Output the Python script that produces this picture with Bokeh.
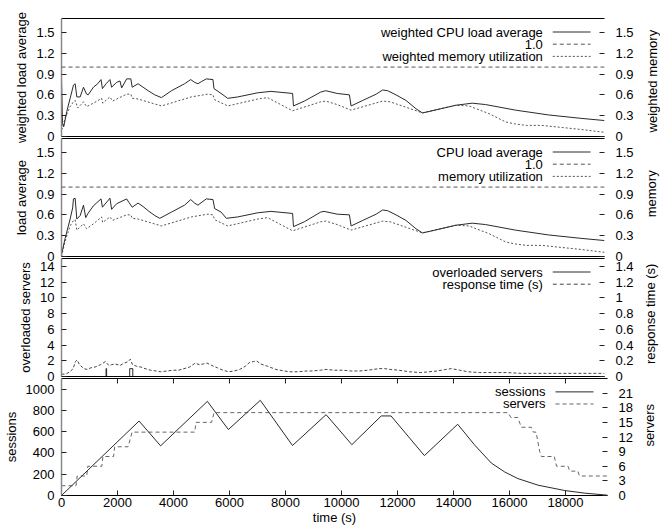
import math
from bokeh.plotting import figure
from bokeh.models import Range1d, LinearAxis, FixedTicker, Label, Span
from bokeh.layouts import column, row
from bokeh.embed import file_html
from bokeh.resources import INLINE

FONT = "Liberation Sans"
X_END = 19500

# ---------------- tick definitions ----------------
x_ticks = [0, 2000, 4000, 6000, 8000, 10000, 12000, 14000, 16000, 18000]
x_tick_labels = ["0", "2000", "4000", "6000", "8000", "10000", "12000", "14000", "16000", "18000"]
load_ticks = [0, 0.3, 0.6, 0.9, 1.2, 1.5]
load_tick_labels = ["0", "0.3", "0.6", "0.9", "1.2", "1.5"]
overload_ticks = [0, 2, 4, 6, 8, 10, 12, 14]
overload_tick_labels = ["0", "2", "4", "6", "8", "10", "12", "14"]
resp_ticks = [0, 0.2, 0.4, 0.6, 0.8, 1.0, 1.2, 1.4]
resp_tick_labels = ["0", "0.2", "0.4", "0.6", "0.8", "1", "1.2", "1.4"]
session_ticks = [0, 200, 400, 600, 800, 1000]
session_tick_labels = ["0", "200", "400", "600", "800", "1000"]
server_ticks = [0, 3, 6, 9, 12, 15, 18, 21]
server_tick_labels = ["0", "3", "6", "9", "12", "15", "18", "21"]

threshold = 1.0

# ---------------- data (time s, value) ----------------
weighted_cpu = [(0, 0.82), (40, 0.17), (80, 0.14), (190, 0.36), (310, 0.55), (430, 0.74), (490, 0.76),
                (550, 0.57), (670, 0.57), (790, 0.71), (900, 0.61), (960, 0.60), (1145, 0.71), (1300, 0.76),
                (1420, 0.82), (1470, 0.69), (1600, 0.76), (1740, 0.82), (1800, 0.71), (1980, 0.78),
                (2100, 0.80), (2160, 0.70), (2340, 0.83), (2490, 0.83), (2540, 0.71), (2750, 0.76),
                (2930, 0.71), (3110, 0.66), (3350, 0.60), (3590, 0.56), (3950, 0.66), (4420, 0.76),
                (4640, 0.82), (4780, 0.78), (4900, 0.76), (5020, 0.79), (5200, 0.83), (5440, 0.82),
                (5475, 0.69), (5730, 0.62), (5970, 0.55), (6330, 0.57), (7050, 0.63), (7520, 0.65),
                (8300, 0.62), (8330, 0.44), (8720, 0.51), (9310, 0.64), (9490, 0.66), (9900, 0.62),
                (10340, 0.60), (10400, 0.44), (10820, 0.52), (11300, 0.61), (11530, 0.67), (11710, 0.66),
                (12010, 0.60), (12370, 0.52), (12730, 0.40), (12960, 0.34), (13200, 0.36), (14160, 0.45),
                (14750, 0.48), (15230, 0.46), (16300, 0.38), (17500, 0.31), (18690, 0.26), (19500, 0.23)]

weighted_mem = [(0, 0.10), (40, 0.12), (130, 0.27), (310, 0.43), (430, 0.50), (490, 0.52), (585, 0.41),
                (790, 0.50), (900, 0.43), (1145, 0.48), (1440, 0.55), (1480, 0.48), (1740, 0.57),
                (1830, 0.51), (2340, 0.61), (2490, 0.61), (2540, 0.55), (2750, 0.54), (3590, 0.44),
                (4660, 0.57), (5260, 0.61), (5440, 0.60), (5500, 0.53), (5970, 0.44), (7050, 0.54),
                (7400, 0.56), (8300, 0.37), (9310, 0.50), (9490, 0.51), (9900, 0.46), (10400, 0.38),
                (11530, 0.51), (11800, 0.50), (12960, 0.34), (14160, 0.45), (14630, 0.44), (15350, 0.33),
                (15950, 0.21), (16300, 0.18), (16700, 0.16), (17250, 0.16), (17970, 0.13), (18690, 0.10),
                (19500, 0.06)]

cpu_load = [(0, 0.03), (130, 0.26), (310, 0.54), (400, 0.70), (430, 0.83), (490, 0.84), (550, 0.54),
            (670, 0.59), (790, 0.74), (870, 0.56), (950, 0.62), (1145, 0.73), (1420, 0.83), (1470, 0.71),
            (1740, 0.84), (1800, 0.68), (1980, 0.76), (2340, 0.83), (2420, 0.78), (2540, 0.71),
            (2750, 0.77), (2930, 0.72), (3110, 0.66), (3350, 0.59), (3530, 0.55), (3950, 0.64),
            (4420, 0.74), (4640, 0.82), (4780, 0.77), (4900, 0.74), (5200, 0.83), (5440, 0.82),
            (5500, 0.69), (5730, 0.64), (5920, 0.55), (6330, 0.57), (7050, 0.63), (7520, 0.65),
            (8300, 0.62), (8330, 0.43), (8720, 0.50), (9310, 0.64), (9430, 0.65), (9900, 0.61),
            (10340, 0.60), (10400, 0.44), (10820, 0.52), (11300, 0.61), (11530, 0.67), (11710, 0.66),
            (12010, 0.60), (12370, 0.52), (12730, 0.40), (12960, 0.34), (13200, 0.36), (14160, 0.45),
            (14750, 0.48), (15230, 0.46), (16300, 0.38), (17500, 0.31), (18690, 0.26), (19500, 0.23)]

memory = [(0, 0.0), (130, 0.22), (310, 0.44), (430, 0.52), (490, 0.53), (550, 0.38), (790, 0.47),
          (900, 0.40), (1145, 0.47), (1440, 0.57), (1480, 0.49), (1740, 0.57), (1830, 0.52), (2340, 0.60),
          (2490, 0.60), (2540, 0.55), (2750, 0.54), (3590, 0.44), (4660, 0.57), (5260, 0.61), (5440, 0.60),
          (5500, 0.53), (5970, 0.44), (7050, 0.54), (7400, 0.56), (8300, 0.37), (9310, 0.50), (9490, 0.51),
          (9900, 0.46), (10400, 0.38), (11530, 0.51), (11800, 0.50), (12960, 0.34), (14160, 0.45),
          (14630, 0.44), (15350, 0.33), (15950, 0.21), (16300, 0.18), (16700, 0.16), (17250, 0.16),
          (17970, 0.13), (18690, 0.10), (19500, 0.06)]

overloaded_servers = [(0, 0), (1600, 0), (1600, 1), (1620, 1), (1620, 0), (2450, 0), (2450, 1),
                      (2560, 1), (2560, 0), (19500, 0)]

response_time = [(0, 0.03), (150, 0.03), (300, 0.06), (420, 0.10), (500, 0.19), (560, 0.21), (650, 0.15),
                 (800, 0.10), (920, 0.09), (1050, 0.11), (1200, 0.12), (1400, 0.15), (1580, 0.19),
                 (1700, 0.14), (1800, 0.15), (1930, 0.16), (2100, 0.14), (2250, 0.17), (2400, 0.19),
                 (2470, 0.22), (2550, 0.15), (2700, 0.13), (2850, 0.12), (3000, 0.10), (3200, 0.08),
                 (3400, 0.07), (3550, 0.06), (3800, 0.07), (4000, 0.08), (4200, 0.08), (4400, 0.10),
                 (4600, 0.12), (4800, 0.17), (4950, 0.15), (5100, 0.16), (5230, 0.17), (5400, 0.14),
                 (5600, 0.11), (5800, 0.08), (6000, 0.06), (6200, 0.07), (6400, 0.09), (6600, 0.13),
                 (6760, 0.18), (6900, 0.19), (7000, 0.20), (7150, 0.16), (7400, 0.13), (7700, 0.09),
                 (8000, 0.07), (8200, 0.06), (8500, 0.06), (8800, 0.07), (9000, 0.07), (9300, 0.08),
                 (9500, 0.09), (9800, 0.08), (10100, 0.08), (10400, 0.07), (10700, 0.07), (11000, 0.08),
                 (11200, 0.09), (11400, 0.10), (11600, 0.10), (11800, 0.09), (12100, 0.08), (12500, 0.06),
                 (12900, 0.05), (13200, 0.06), (13500, 0.07), (13800, 0.09), (14000, 0.10), (14300, 0.08),
                 (14600, 0.06), (15000, 0.05), (15500, 0.05), (16000, 0.05), (16500, 0.04), (17000, 0.04),
                 (17500, 0.04), (18000, 0.04), (18500, 0.04), (19000, 0.04), (19500, 0.04)]

sessions = [(0, 0), (2770, 700), (3540, 467), (5210, 885), (5960, 620), (7100, 895), (8250, 470),
            (9450, 760), (10370, 478), (11420, 748), (11770, 748), (12960, 375), (14150, 670),
            (14750, 476), (15350, 305), (15830, 221), (16300, 159), (17020, 97), (17970, 47),
            (18690, 22), (19500, 3)]

servers = [(0, 2), (520, 2), (560, 4), (900, 4), (940, 6), (1440, 6), (1480, 8), (1860, 8), (1900, 10),
           (2380, 10), (2520, 13), (4760, 13), (4800, 15), (5360, 15), (5450, 17), (15950, 17),
           (16050, 16), (16300, 16), (16420, 14), (16780, 14), (16850, 13), (16950, 13), (17080, 9),
           (17140, 8), (17600, 8), (17680, 6), (18090, 6), (18150, 5), (18440, 5), (18500, 4), (19500, 4)]

SOLID = "#2a2a2a"
GRAY = "#555555"
FRAME_W = 546
FRAME_H = 118
OVERLAP = 8
MAIN_W = 636
SIDE_W = 660 - MAIN_W


def xs(pairs):
    return [a for a, _ in pairs]


def ys(pairs):
    return [b for _, b in pairs]


def px_to_x(px_from_frame_left):
    return X_END * px_from_frame_left / FRAME_W


def style_axis(ax):
    ax.major_tick_in = 5
    ax.major_tick_out = 0
    ax.minor_tick_in = 0
    ax.minor_tick_out = 0
    ax.major_tick_line_color = "#222222"
    ax.major_label_text_font = FONT
    ax.major_label_text_font_size = "13px"
    ax.major_label_text_color = "black"
    ax.axis_label_text_font = FONT
    ax.axis_label_text_font_size = "13px"
    ax.axis_label_text_font_style = "normal"
    ax.axis_label_text_color = "black"


def side_title(height, top, text, center_px):
    """Narrow strip to the right of a panel that carries its right-hand axis title."""
    s = figure(width=SIDE_W, height=height, x_range=Range1d(0, SIDE_W), y_range=Range1d(0, height),
               x_axis_location=None, y_axis_location=None, output_backend="svg",
               toolbar_location=None, min_border=0)
    s.outline_line_color = None
    s.grid.visible = False
    s.background_fill_color = None
    s.border_fill_color = None
    s.add_layout(Label(x=center_px - MAIN_W, y=height - top - FRAME_H / 2, text=text, angle=math.pi / 2,
                       text_align="center", text_baseline="middle", text_font=FONT,
                       text_font_size="13px", text_color="black"))
    return s


def make_panel(top, bottom, y_end, y2_end, lt, ll, ltitle, rt, rl, with_x):
    p = figure(width=MAIN_W, height=top + FRAME_H + bottom, x_range=Range1d(0, X_END),
               y_range=Range1d(0, y_end), x_axis_location=None, y_axis_location=None,
               output_backend="svg", toolbar_location=None, min_border_left=61,
               min_border_right=MAIN_W - 61 - FRAME_W,
               min_border_top=top, min_border_bottom=bottom)
    p.extra_y_ranges = {"y2": Range1d(0, y2_end)}
    p.outline_line_color = None
    p.grid.visible = False
    p.background_fill_color = None
    p.border_fill_color = None

    left = LinearAxis(ticker=FixedTicker(ticks=lt), major_label_overrides=dict(zip(lt, ll)),
                      axis_label=ltitle)
    style_axis(left)
    left.axis_line_color = "#888888"
    left.axis_line_width = 1.5
    left.major_label_standoff = 7
    left.axis_label_standoff = 4
    p.add_layout(left, "left")

    right = LinearAxis(y_range_name="y2", ticker=FixedTicker(ticks=rt),
                       major_label_overrides=dict(zip(rt, rl)))
    style_axis(right)
    right.axis_line_color = None
    right.major_label_standoff = 11
    p.add_layout(right, "right")

    if with_x:
        below = LinearAxis(ticker=FixedTicker(ticks=x_ticks),
                           major_label_overrides=dict(zip(x_ticks, x_tick_labels)), axis_label="time (s)")
        style_axis(below)
        below.axis_line_color = "black"
        below.major_label_standoff = 2
        below.axis_label_standoff = 0
        p.add_layout(below, "below")
        above = LinearAxis(ticker=FixedTicker(ticks=[]))
        style_axis(above)
        above.axis_line_color = "black"
        above.major_label_standoff = 0
        p.add_layout(above, "above")
        # mirrored (inward) tick marks along the top border
        tick_len = y_end * 5 / FRAME_H
        p.segment(x0=x_ticks, y0=[y_end] * len(x_ticks), x1=x_ticks, y1=[y_end - tick_len] * len(x_ticks),
                  line_color="#222222", line_width=1)
    else:
        for side in ("below", "above"):
            ax = LinearAxis(ticker=FixedTicker(ticks=[]))
            style_axis(ax)
            ax.axis_line_color = "black"
            ax.major_label_standoff = 0
            p.add_layout(ax, side)
    return p


def add_legend(p, y_end, entries):
    for i, (label, color, dash) in enumerate(entries):
        y = y_end * (1 - (13.5 + 12.2 * i) / FRAME_H)
        p.add_layout(Label(x=px_to_x(484), y=y, text=label, text_align="right",
                           text_baseline="middle", text_font=FONT, text_font_size="13px",
                           text_color="black"))
        p.line([px_to_x(494), px_to_x(532)], [y, y], line_color=color, line_dash=dash, line_width=1)


DASH = "4 3"
DOT = "2 2"
B = OVERLAP + 1

# panel 1
p1 = make_panel(18, B, 1.7, 1.7, load_ticks, load_tick_labels, "weighted load average",
                load_ticks, load_tick_labels, False)
p1.add_layout(Span(location=threshold, dimension="width", line_color=GRAY, line_dash=DASH, line_width=1))
p1.line(xs(weighted_mem), ys(weighted_mem), line_color=GRAY, line_dash=DOT, line_width=1, y_range_name="y2")
p1.line(xs(weighted_cpu), ys(weighted_cpu), line_color=SOLID, line_width=1)
add_legend(p1, 1.7, [("weighted CPU load average", SOLID, "solid"), ("1.0", GRAY, DASH),
                     ("weighted memory utilization", GRAY, DOT)])
s1 = side_title(18 + FRAME_H + B, 18, "weighted memory", 652)

# panel 2
p2 = make_panel(1, B, 1.7, 1.7, load_ticks, load_tick_labels, "load average",
                load_ticks, load_tick_labels, False)
p2.add_layout(Span(location=threshold, dimension="width", line_color=GRAY, line_dash=DASH, line_width=1))
p2.line(xs(memory), ys(memory), line_color=GRAY, line_dash=DOT, line_width=1, y_range_name="y2")
p2.line(xs(cpu_load), ys(cpu_load), line_color=SOLID, line_width=1)
add_legend(p2, 1.7, [("CPU load average", SOLID, "solid"), ("1.0", GRAY, DASH),
                     ("memory utilization", GRAY, DOT)])
s2 = side_title(1 + FRAME_H + B, 1, "memory", 651)

# panel 3
p3 = make_panel(1, B, 15, 1.5, overload_ticks, overload_tick_labels, "overloaded servers",
                resp_ticks, resp_tick_labels, False)
p3.line(xs(response_time), ys(response_time), line_color="#444444", line_dash="3 2", line_width=1,
        y_range_name="y2")
p3.line(xs(overloaded_servers), ys(overloaded_servers), line_color=SOLID, line_width=1)
add_legend(p3, 15, [("overloaded servers", SOLID, "solid"), ("response time (s)", "#444444", DASH)])
s3 = side_title(1 + FRAME_H + B, 1, "response time (s)", 650)

# panel 4
p4 = make_panel(1, 31, 1100, 24, session_ticks, session_tick_labels, "sessions",
                server_ticks, server_tick_labels, True)
p4.line(xs(servers), ys(servers), line_color="#666666", line_dash=DASH, line_width=1, y_range_name="y2")
p4.line(xs(sessions), ys(sessions), line_color=SOLID, line_width=1)
add_legend(p4, 1100, [("sessions", SOLID, "solid"), ("servers", "#666666", DASH)])
s4 = side_title(1 + FRAME_H + 31, 1, "servers", 649)

layout = column(row(p1, s1, spacing=0),
                row(p2, s2, spacing=0, margin=(-OVERLAP, 0, 0, 0)),
                row(p3, s3, spacing=0, margin=(-OVERLAP, 0, 0, 0)),
                row(p4, s4, spacing=0, margin=(-OVERLAP, 0, 0, 0)),
                spacing=0)
open("out.html", "w").write(file_html(layout, INLINE))
